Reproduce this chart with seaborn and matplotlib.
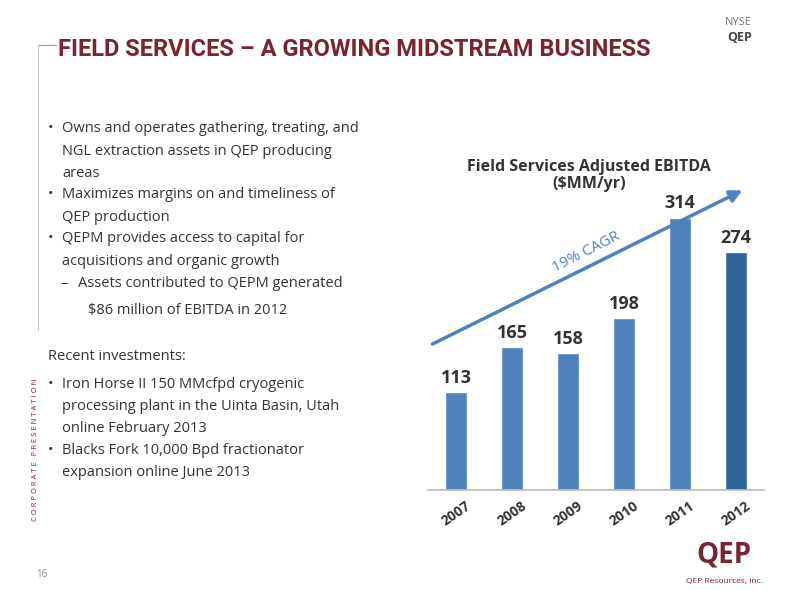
import matplotlib
matplotlib.use("Agg")
import matplotlib.pyplot as plt
import seaborn as sns
import pandas as pd

years = ["2007", "2008", "2009", "2010", "2011", "2012"]
ebitda = [113, 165, 158, 198, 314, 274]

sns.set_theme(style="white")
plt.rcParams['font.family'] = ['Open Sans', 'DejaVu Sans']

fig = plt.figure(figsize=(8, 6), dpi=100)
red = "#7A2333"

# header
fig.text(0.073, 0.917, "FIELD SERVICES – A GROWING MIDSTREAM BUSINESS", color=red,
         fontsize=17, fontweight="bold", family="Roboto", va="center")
fig.add_artist(plt.Line2D([0.047, 0.07], [0.925, 0.925], color="#999999", lw=0.8))
fig.add_artist(plt.Line2D([0.047, 0.047], [0.925, 0.45], color="#cccccc", lw=0.8))
fig.text(0.94, 0.962, "NYSE", color="#777777", fontsize=8, ha="right", va="center")
fig.text(0.94, 0.937, "QEP", color="#444444", fontsize=9, fontweight="bold", ha="right", va="center")
fig.text(0.045, 0.25, "C O R P O R A T E   P R E S E N T A T I O N", rotation=90, color=red, fontsize=5.5,
         ha="center", va="center")
fig.text(0.052, 0.043, "16", color="#888888", fontsize=7, ha="center", va="center")
fig.text(0.905, 0.075, "QEP", color=red, fontsize=20, fontweight="bold", ha="center", va="center")
fig.text(0.905, 0.03, "QEP Resources, Inc.", color=red, fontsize=6, ha="center", va="center")

# bullets
tc = "#333333"
fs = 10.5
lines = [
    (0.06, 0.785, "•", 0.078, "Owns and operates gathering, treating, and"),
    (None, 0.748, "", 0.078, "NGL extraction assets in QEP producing"),
    (None, 0.711, "", 0.078, "areas"),
    (0.06, 0.675, "•", 0.078, "Maximizes margins on and timeliness of"),
    (None, 0.638, "", 0.078, "QEP production"),
    (0.06, 0.602, "•", 0.078, "QEPM provides access to capital for"),
    (None, 0.565, "", 0.078, "acquisitions and organic growth"),
    (0.076, 0.528, "–", 0.097, "Assets contributed to QEPM generated"),
    (None, 0.483, "", 0.11, "$86 million of EBITDA in 2012"),
    (None, 0.405, "", 0.06, "Recent investments:"),
    (0.06, 0.36, "•", 0.078, "Iron Horse II 150 MMcfpd cryogenic"),
    (None, 0.323, "", 0.078, "processing plant in the Uinta Basin, Utah"),
    (None, 0.286, "", 0.078, "online February 2013"),
    (0.06, 0.25, "•", 0.078, "Blacks Fork 10,000 Bpd fractionator"),
    (None, 0.213, "", 0.078, "expansion online June 2013"),
]
for bx, y, b, tx, t in lines:
    if bx is not None:
        fig.text(bx, y, b, color=tc, fontsize=fs, va="center")
    fig.text(tx, y, t, color=tc, fontsize=fs, va="center")

# chart
ax = fig.add_axes([0.535, 0.183, 0.42, 0.567])
df = pd.DataFrame({"year": years, "ebitda": ebitda})
colors = ["#4F81BD"] * 5 + ["#2E6399"]
sns.barplot(data=df, x="year", y="ebitda", hue="year", palette=colors, legend=False,
            width=0.4, ax=ax, saturation=1)
ax.set_ylim(0, 392)
ax.set_xlim(-0.5, 5.5)
for i, v in enumerate(ebitda):
    ax.text(i, v + 6, str(v), ha="center", va="bottom", fontsize=13, fontweight="bold", color="#333333")
ax.set_xlabel(""); ax.set_ylabel("")
ax.set_yticks([])
for s in ["left", "right", "top"]:
    ax.spines[s].set_visible(False)
ax.spines["bottom"].set_color("#bbbbbb")
ax.tick_params(axis="x", length=0, pad=6)
for lab in ax.get_xticklabels():
    lab.set_rotation(35); lab.set_fontweight("bold"); lab.set_fontsize(10); lab.set_color("#333333")
ax.text(0.48, 0.925, "Field Services Adjusted EBITDA\n($MM/yr)", transform=ax.transAxes,
        fontsize=11.5, fontweight="bold", color="#333333", ha="center", va="center",
        linespacing=1.1)
ax.annotate("", xy=(0.943, 0.885), xytext=(0.006, 0.426), xycoords="axes fraction",
            arrowprops=dict(arrowstyle="-|>", color="#4F81BD", lw=2.5, mutation_scale=18))
ax.text(0.47, 0.7, "19% CAGR", transform=ax.transAxes, rotation=27, color="#4F81BD",
        fontsize=11, ha="center", va="center")

fig.savefig("out.png", dpi=100)
